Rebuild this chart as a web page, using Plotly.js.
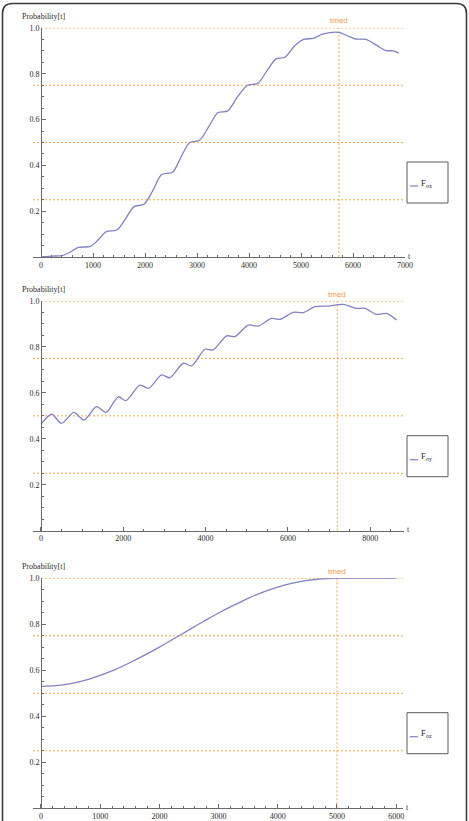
<!DOCTYPE html>
<html>
<head>
<meta charset="utf-8">
<script src="https://cdn.plot.ly/plotly-3.0.1.min.js"></script>
<style>
  html, body { margin: 0; padding: 0; background: #ffffff; }
  #chart { width: 469px; height: 821px; }
</style>
</head>
<body>
<div id="chart"></div>
<script>
// Probability[t] for the three spin components (F_σx, F_σy, F_σz)
const tSigmaX = [0, 200, 400, 550, 720, 950, 1100, 1250, 1460, 1620, 1790, 1980, 2150, 2320, 2530, 2700, 2860, 3050, 3230, 3400, 3590, 3780, 3970, 4170, 4350, 4520, 4690, 4870, 5050, 5240, 5400, 5550, 5750, 5900, 6050, 6250, 6450, 6620, 6780, 6880];
const pSigmaX = [0.000, 0.004, 0.006, 0.020, 0.042, 0.046, 0.075, 0.110, 0.118, 0.165, 0.220, 0.230, 0.290, 0.360, 0.370, 0.440, 0.500, 0.510, 0.570, 0.630, 0.638, 0.700, 0.750, 0.758, 0.815, 0.865, 0.872, 0.920, 0.950, 0.955, 0.972, 0.980, 0.980, 0.965, 0.952, 0.950, 0.925, 0.902, 0.900, 0.890];

const tSigmaY = [0, 260, 500, 800, 1045, 1350, 1580, 1880, 2065, 2405, 2615, 2930, 3135, 3457, 3660, 3985, 4185, 4510, 4710, 5036, 5280, 5603, 5806, 6130, 6372, 6656, 6980, 7344, 7668, 7870, 8154, 8397, 8640];
const pSigmaY = [0.464, 0.507, 0.467, 0.515, 0.482, 0.540, 0.515, 0.583, 0.566, 0.634, 0.620, 0.678, 0.666, 0.729, 0.718, 0.790, 0.787, 0.848, 0.845, 0.895, 0.891, 0.924, 0.920, 0.951, 0.949, 0.975, 0.978, 0.985, 0.968, 0.968, 0.942, 0.946, 0.917];

const tSigmaZ = [0, 250, 500, 750, 1000, 1250, 1500, 1750, 2000, 2250, 2500, 2750, 3000, 3250, 3500, 3750, 4000, 4250, 4500, 4750, 5000, 5500, 6000];
const pSigmaZ = [0.530, 0.533, 0.542, 0.557, 0.578, 0.603, 0.633, 0.666, 0.701, 0.738, 0.776, 0.813, 0.849, 0.882, 0.913, 0.940, 0.962, 0.979, 0.991, 0.998, 1.000, 1.000, 1.000];

// median times marked on each panel
const tmedValues = [5730, 7200, 5000];
// reference probability levels
const guideLevels = [0.25, 0.5, 0.75, 1.0];

const xTicksX = [0, 1000, 2000, 3000, 4000, 5000, 6000, 7000];
const xTicksY = [0, 2000, 4000, 6000, 8000];
const xTicksZ = [0, 1000, 2000, 3000, 4000, 5000, 6000];
const yTickVals = [0.2, 0.4, 0.6, 0.8, 1.0];
const yTickText = ['0.2', '0.4', '0.6', '0.8', '1.0'];
const legendNames = ['F<sub>σx</sub>', 'F<sub>σy</sub>', 'F<sub>σz</sub>'];

const W = 469, H = 821;
const px = v => v / W;
const py = v => 1 - v / H;

const curveColor = '#8181c4';
const guideColor = '#f2a848';
const tmedColor = '#ee9a50';
const axisColor = '#6a6a6a';
const textColor = '#2a2a2a';
const serif = 'Liberation Serif, Times New Roman, serif';

const panels = [
  { t: tSigmaX, p: pSigmaX, tmed: tmedValues[0], ticks: xTicksX, minor: 200,
    top: 28, bottom: 257, left: 33, right: 405, range: [-154, 7000], legTop: 162, name: legendNames[0] },
  { t: tSigmaY, p: pSigmaY, tmed: tmedValues[1], ticks: xTicksY, minor: 500,
    top: 301, bottom: 530.7, left: 33, right: 404, range: [-194, 8821], legTop: 435.7, name: legendNames[1] },
  { t: tSigmaZ, p: pSigmaZ, tmed: tmedValues[2], ticks: xTicksZ, minor: 200,
    top: 578.3, bottom: 808.3, left: 33, right: 403, range: [-135, 6115], legTop: 712.7, name: legendNames[2] }
];

const data = [];
const shapes = [];
const annotations = [];
const layout = {
  width: W, height: H,
  margin: { l: 0, r: 0, t: 0, b: 0, pad: 0 },
  paper_bgcolor: '#ffffff',
  plot_bgcolor: 'rgba(0,0,0,0)',
  showlegend: false,
  shapes: shapes,
  annotations: annotations
};

panels.forEach((pn, i) => {
  const sfx = i === 0 ? '' : String(i + 1);
  const xa = 'x' + sfx, ya = 'y' + sfx;

  data.push({
    x: pn.t, y: pn.p, xaxis: xa, yaxis: ya,
    type: 'scatter', mode: 'lines', name: pn.name,
    line: { color: curveColor, width: 1.3, shape: 'spline', smoothing: 0.8 },
    hoverinfo: 'skip'
  });

  layout['xaxis' + sfx] = {
    domain: [px(pn.left), px(pn.right)],
    anchor: ya,
    range: pn.range,
    showgrid: false, zeroline: false,
    showline: true, linecolor: axisColor, linewidth: 1,
    tickmode: 'array', tickvals: pn.ticks, ticktext: pn.ticks.map(String),
    ticks: 'inside', ticklen: 4, tickwidth: 1, tickcolor: axisColor,
    minor: { ticks: 'inside', ticklen: 2, tickcolor: axisColor, dtick: pn.minor, tick0: 0, showgrid: false },
    tickfont: { family: serif, size: 8, color: textColor },
    fixedrange: true
  };
  layout['yaxis' + sfx] = {
    domain: [py(pn.bottom), py(pn.top)],
    anchor: 'free', position: px(41),
    range: [0, 1],
    showgrid: false, zeroline: false,
    showline: true, linecolor: axisColor, linewidth: 1,
    tickmode: 'array', tickvals: yTickVals, ticktext: yTickText,
    ticks: 'inside', ticklen: 4, tickwidth: 1, tickcolor: axisColor,
    minor: { ticks: 'inside', ticklen: 2, tickcolor: axisColor, dtick: 0.05, tick0: 0, showgrid: false },
    tickfont: { family: serif, size: 8, color: textColor },
    fixedrange: true
  };

  // dotted reference levels
  guideLevels.forEach(lv => {
    shapes.push({
      type: 'line', layer: 'below', xref: xa, yref: ya,
      x0: lv === 1 ? 0 : pn.range[0], x1: pn.range[1], y0: lv, y1: lv,
      line: { color: guideColor, width: 1, dash: '2px,2px' }
    });
  });
  // median time marker
  shapes.push({
    type: 'line', layer: 'below', xref: xa, yref: ya,
    x0: pn.tmed, x1: pn.tmed, y0: 0, y1: 1,
    line: { color: guideColor, width: 1, dash: '2px,2px' }
  });

  annotations.push({
    xref: xa, yref: 'paper', x: pn.tmed, y: py(pn.top - 7),
    text: 'tmed', showarrow: false, xanchor: 'center', yanchor: 'middle',
    font: { family: 'Liberation Sans, Arial, sans-serif', size: 8, color: tmedColor }
  });
  annotations.push({
    xref: 'paper', yref: 'paper', x: px(20), y: py(pn.top - 5),
    text: 'Probability[t]', showarrow: false, xanchor: 'left', yanchor: 'bottom',
    font: { family: serif, size: 8, color: textColor }
  });
  annotations.push({
    xref: 'paper', yref: 'paper', x: px(pn.right + 4), y: py(pn.bottom - 1),
    text: 't', showarrow: false, xanchor: 'center', yanchor: 'middle',
    font: { family: serif, size: 8, color: textColor }
  });

  // legend box
  shapes.push({
    type: 'rect', xref: 'paper', yref: 'paper',
    x0: px(407), x1: px(448), y0: py(pn.legTop), y1: py(pn.legTop + 41),
    fillcolor: '#ffffff', line: { color: '#5a5a5a', width: 1 }
  });
  shapes.push({
    type: 'line', xref: 'paper', yref: 'paper',
    x0: px(410), x1: px(418), y0: py(pn.legTop + 24), y1: py(pn.legTop + 24),
    line: { color: curveColor, width: 1.2 }
  });
  annotations.push({
    xref: 'paper', yref: 'paper', x: px(419), y: py(pn.legTop + 21),
    text: pn.name, showarrow: false, xanchor: 'left', yanchor: 'middle',
    font: { family: serif, size: 8.5, color: textColor }
  });
});

// rounded outer frame
const fl = px(2.5), fr = px(466.5), ft = py(3.5), fb = py(840);
const rx = 10 / W, ry = 10 / H;
shapes.push({
  type: 'path', xref: 'paper', yref: 'paper',
  path: `M ${fl},${fb} L ${fl},${ft - ry} Q ${fl},${ft} ${fl + rx},${ft} L ${fr - rx},${ft} Q ${fr},${ft} ${fr},${ft - ry} L ${fr},${fb}`,
  line: { color: '#3a3a3a', width: 1.6 }
});

Plotly.newPlot('chart', data, layout, { displayModeBar: false, staticPlot: true });
</script>
</body>
</html>
